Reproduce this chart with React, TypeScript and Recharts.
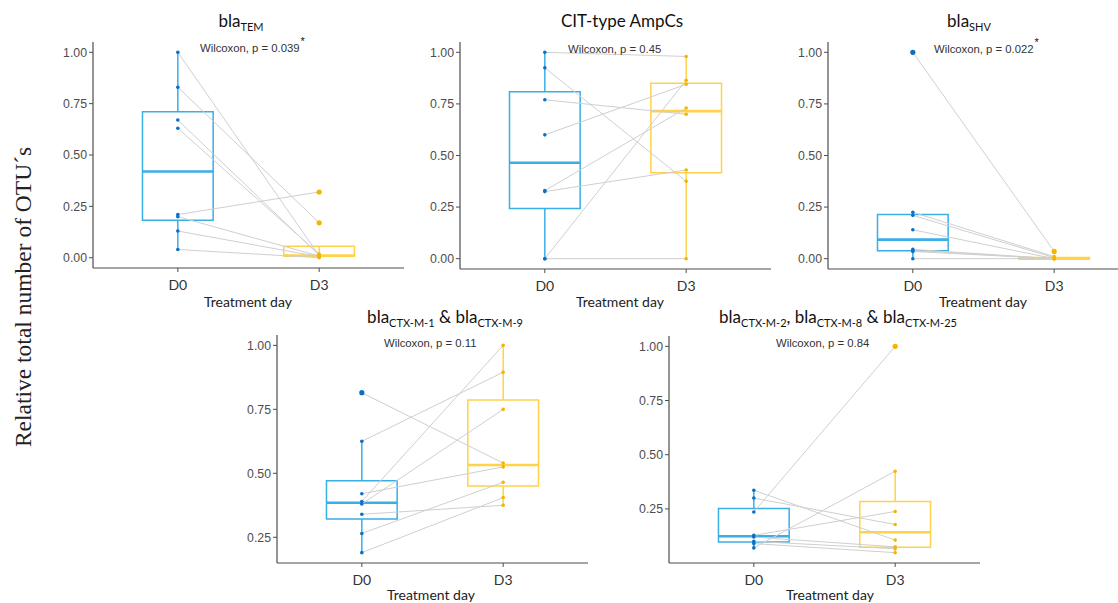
import React from 'react';
import { ScatterChart, Scatter, XAxis, YAxis, ReferenceArea, ReferenceLine } from 'recharts';

// treatment days on the x axis (D0 = 1, D3 = 2)
const days = ['D0', 'D3'];

// paired samples, same order in D0 and D3
const temD0 = [1.0, 0.83, 0.67, 0.63, 0.21, 0.2, 0.13, 0.04];
const temD3 = [0.01, 0.17, 0.012, 0.018, 0.32, 0.008, 0.005, 0];

const citD0 = [1.0, 0.925, 0.77, 0.6, 0.33, 0.325, 0, 0];
const citD3 = [0.98, 0.375, 0.7, 0.845, 0.73, 0.43, 0.865, 0];

const shvD0 = [1.0, 0.225, 0.21, 0.14, 0.045, 0.04, 0.035, 0];
const shvD3 = [0.035, 0.01, 0.005, 0, 0, 0, 0, 0];

const ctx19D0 = [0.815, 0.625, 0.42, 0.39, 0.38, 0.34, 0.265, 0.19];
const ctx19D3 = [0.54, 0.895, 0.525, 1.0, 0.75, 0.375, 0.465, 0.405];

const ctx2825D0 = [0.336, 0.3, 0.236, 0.128, 0.12, 0.1, 0.09, 0.07];
const ctx2825D3 = [0.106, 0.178, 1.0, 0.238, 0.075, 0.066, 0.048, 0.424];

const ticksFull = [0, 0.25, 0.5, 0.75, 1];
const ticksUpper = [0.25, 0.5, 0.75, 1];

const pValues = ['0.039', '0.45', '0.022', '0.11', '0.84'];

const BLUE_BOX = '#3aaee6';
const BLUE_PT = '#0b6fc6';
const GOLD_BOX = '#ffd24a';
const GOLD_PT = '#f6b300';
const PAIR = '#cfcfcf';
const AXIS = '#4d4d4d';

// quantile, R type 7 (ggplot default)
function quant(sorted: number[], p: number) {
  const h = (sorted.length - 1) * p;
  const lo = Math.floor(h);
  const hi = Math.min(lo + 1, sorted.length - 1);
  return sorted[lo] + (h - lo) * (sorted[hi] - sorted[lo]);
}

function boxStats(values: number[]) {
  const s = [...values].sort((a, b) => a - b);
  const q1 = quant(s, 0.25);
  const med = quant(s, 0.5);
  const q3 = quant(s, 0.75);
  const iqr = q3 - q1;
  const inside = s.filter(v => v >= q1 - 1.5 * iqr && v <= q3 + 1.5 * iqr);
  const outliers = s.filter(v => v < q1 - 1.5 * iqr || v > q3 + 1.5 * iqr);
  return { q1, med, q3, lo: inside[0], hi: inside[inside.length - 1], outliers };
}

const sub = (t: string) => (
  <span style={{ fontSize: 11, position: 'relative', top: 4 }}>{t}</span>
);

interface Panel {
  d0: number[];
  d3: number[];
  domain: [number, number];
  ticks: number[];
  // plot rectangle in page pixels
  x0: number; x1: number; y0: number; y1: number;
  title: React.ReactNode;
  titleX: number; titleY: number;
  p: string; star: boolean; pX: number; pY: number;
  labelX: number; labelY: number;
}

const panels: Panel[] = [
  {
    d0: temD0, d3: temD3, domain: [-0.05, 1.05], ticks: ticksFull,
    x0: 93, x1: 404, y0: 42, y1: 268,
    title: <>bla{sub('TEM')}</>, titleX: 241, titleY: 11,
    p: pValues[0], star: true, pX: 200, pY: 41,
    labelX: 248, labelY: 293,
  },
  {
    d0: citD0, d3: citD3, domain: [-0.05, 1.05], ticks: ticksFull,
    x0: 460, x1: 771, y0: 42, y1: 269,
    title: <>CIT-type AmpCs</>, titleX: 622, titleY: 11,
    p: pValues[1], star: false, pX: 568, pY: 42,
    labelX: 620, labelY: 293,
  },
  {
    d0: shvD0, d3: shvD3, domain: [-0.05, 1.05], ticks: ticksFull,
    x0: 828, x1: 1139, y0: 42, y1: 269,
    title: <>bla{sub('SHV')}</>, titleX: 969, titleY: 11,
    p: pValues[2], star: true, pX: 934, pY: 42,
    labelX: 983, labelY: 293,
  },
  {
    d0: ctx19D0, d3: ctx19D3, domain: [0.1495, 1.0405], ticks: ticksUpper,
    x0: 277, x1: 588, y0: 335, y1: 563,
    title: <>bla{sub('CTX-M-1')} &amp; bla{sub('CTX-M-9')}</>, titleX: 445, titleY: 307,
    p: pValues[3], star: false, pX: 384, pY: 336,
    labelX: 431, labelY: 586,
  },
  {
    d0: ctx2825D0, d3: ctx2825D3, domain: [0.0004, 1.0476], ticks: ticksUpper,
    x0: 669, x1: 980, y0: 336, y1: 563,
    title: <>bla{sub('CTX-M-2')}, bla{sub('CTX-M-8')} &amp; bla{sub('CTX-M-25')}</>, titleX: 838, titleY: 307,
    p: pValues[4], star: false, pX: 776, pY: 336,
    labelX: 830, labelY: 586,
  },
];

const Y_W = 40;
const X_H = 30;
const PAD = 5;

function BoxPanel({ panel }: { panel: Panel }) {
  const { d0, d3 } = panel;
  const groups = [
    { x: 1, values: d0, box: BLUE_BOX, pt: BLUE_PT },
    { x: 2, values: d3, box: GOLD_BOX, pt: GOLD_PT },
  ];
  const width = Y_W + (panel.x1 - panel.x0) + PAD;
  const height = PAD + (panel.y1 - panel.y0) + X_H;
  const tickStyle = { fontFamily: '"Liberation Sans", Arial, sans-serif', fontSize: 12.3, fill: AXIS };

  return (
    <div style={{ position: 'absolute', left: panel.x0 - Y_W, top: panel.y0 - PAD }}>
      <ScatterChart width={width} height={height} margin={{ top: PAD, right: PAD, bottom: 0, left: 0 }}>
        <XAxis
          type="number"
          dataKey="x"
          domain={[0.4, 2.6]}
          ticks={[1, 2]}
          allowDataOverflow
          tickFormatter={(v: number) => days[v - 1]}
          height={X_H}
          tickSize={4}
          tickMargin={8}
          axisLine={{ stroke: AXIS, strokeWidth: 1.2 }}
          tickLine={{ stroke: AXIS }}
          tick={{ fontFamily: 'Lato, sans-serif', fontSize: 14, fill: '#333' }}
        />
        <YAxis
          type="number"
          dataKey="y"
          domain={panel.domain}
          ticks={panel.ticks}
          allowDataOverflow
          tickFormatter={(v: number) => v.toFixed(2)}
          width={Y_W}
          tickSize={4}
          tickMargin={2}
          axisLine={{ stroke: AXIS, strokeWidth: 1.2 }}
          tickLine={{ stroke: AXIS }}
          tick={tickStyle}
        />
        {groups.map(g => {
          const s = boxStats(g.values);
          return (
            <React.Fragment key={'box' + g.x}>
              <ReferenceLine segment={[{ x: g.x, y: s.q3 }, { x: g.x, y: s.hi }]} stroke={g.box} strokeWidth={1.5} />
              <ReferenceLine segment={[{ x: g.x, y: s.lo }, { x: g.x, y: s.q1 }]} stroke={g.box} strokeWidth={1.5} />
              <ReferenceArea x1={g.x - 0.25} x2={g.x + 0.25} y1={s.q1} y2={s.q3} stroke={g.box} strokeWidth={1.5} fill="#fff" fillOpacity={0} />
              <ReferenceLine segment={[{ x: g.x - 0.25, y: s.med }, { x: g.x + 0.25, y: s.med }]} stroke={g.box} strokeWidth={2.6} />
            </React.Fragment>
          );
        })}
        {d0.map((v, i) => (
          <ReferenceLine key={'pair' + i} segment={[{ x: 1, y: v }, { x: 2, y: d3[i] }]} stroke={PAIR} strokeWidth={1} />
        ))}
        {groups.map(g => (
          <Scatter
            key={'out' + g.x}
            data={boxStats(g.values).outliers.map(v => ({ x: g.x, y: v }))}
            isAnimationActive={false}
            shape={(p: any) => <circle cx={p.cx} cy={p.cy} r={2.6} fill={g.pt} />}
          />
        ))}
        {groups.map(g => (
          <Scatter
            key={'pts' + g.x}
            data={g.values.map(v => ({ x: g.x, y: v }))}
            isAnimationActive={false}
            shape={(p: any) => <circle cx={p.cx} cy={p.cy} r={1.8} fill={g.pt} />}
          />
        ))}
      </ScatterChart>
    </div>
  );
}

export default function App() {
  return (
    <div style={{ position: 'absolute', left: 0, top: 0, width: 1118, height: 603, overflow: 'hidden', background: '#fff' }}>
      {panels.map((p, i) => <BoxPanel key={i} panel={p} />)}
      {panels.map((p, i) => (
        <React.Fragment key={'t' + i}>
          <div style={{
            position: 'absolute', left: p.titleX, top: p.titleY, transform: 'translateX(-50%)',
            fontFamily: 'Lato, sans-serif', fontSize: 17, lineHeight: '20px', whiteSpace: 'nowrap', color: '#111',
          }}>{p.title}</div>
          <div style={{
            position: 'absolute', left: p.pX, top: p.pY,
            fontFamily: '"Liberation Sans", Arial, sans-serif', fontSize: 11.3, lineHeight: '14px', whiteSpace: 'nowrap', color: '#333',
          }}>
            Wilcoxon, p = {p.p}
            {p.star && <span style={{ position: 'relative', top: -7, marginLeft: 1, fontSize: 11, color: '#111' }}>*</span>}
          </div>
          <div style={{
            position: 'absolute', left: p.labelX, top: p.labelY, transform: 'translateX(-50%)',
            fontFamily: 'Lato, sans-serif', fontSize: 14, lineHeight: '18px', whiteSpace: 'nowrap', color: '#222',
          }}>Treatment day</div>
        </React.Fragment>
      ))}
      <div style={{
        position: 'absolute', left: 23, top: 297, transform: 'translate(-50%, -50%) rotate(-90deg)',
        fontFamily: '"Liberation Serif", serif', fontSize: 23.5, whiteSpace: 'nowrap', color: '#222',
      }}>Relative total number of OTU´s</div>
    </div>
  );
}
